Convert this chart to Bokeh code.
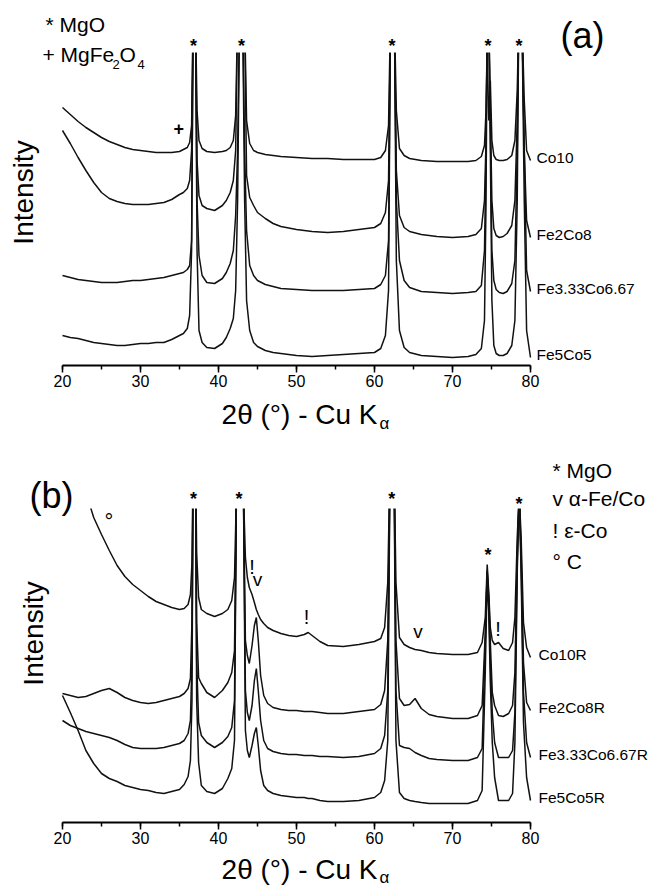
import math
from bokeh.plotting import figure
from bokeh.models import Range1d, Label, SingleIntervalTicker, LinearAxis, BoxAnnotation
from bokeh.layouts import column
from bokeh.embed import file_html
from bokeh.resources import INLINE

# ---------------- data, panel (a): as-prepared catalysts ----------------
# intensities are in arbitrary units; values above 313 run off the top of the panel
two_theta_a = [20, 21, 22, 23, 24, 25, 26, 27, 28, 29,
               30, 31, 32, 33, 34, 35, 35.5, 36.0, 36.3, 36.55,
               36.75, 36.9, 37.05, 37.25, 37.5, 37.9, 38.5, 39.5, 40.5, 41.0,
               41.5, 41.9, 42.2, 42.45, 42.7, 42.9, 43.1, 43.35, 43.6, 44.0,
               44.5, 45, 46, 47, 48, 50, 52, 54, 56, 58,
               60, 60.8, 61.4, 61.8, 62.05, 62.3, 62.55, 62.8, 63.2, 63.8,
               64.5, 66, 68, 70, 72, 73, 73.7, 74.1, 74.3, 74.45,
               74.65, 74.85, 75.05, 75.3, 75.6, 76.0, 76.5, 77.0, 77.6, 78.0,
               78.3, 78.5, 78.7, 78.9, 79.2, 79.5, 80]
co10 = [258, 251, 244, 238, 233, 228, 224, 221, 218, 216,
        215, 214, 213, 213, 213, 214, 216, 218, 223, 240,
        350, 350, 350, 255, 225, 217, 214, 213, 214, 215,
        218, 225, 250, 350, 350, 350, 350, 350, 245, 222,
        215, 213, 211, 210, 209, 208, 207, 207, 206, 206,
        206, 208, 215, 240, 350, 350, 350, 255, 217, 210,
        207, 205, 204, 204, 204, 205, 209, 220, 255, 313,
        245, 285, 225, 210, 206, 205, 205, 206, 210, 225,
        275, 350, 350, 350, 265, 215, 205]
fe2co8 = [235, 222, 208, 195, 183, 173, 167, 164, 162, 161,
          161, 161, 162, 163, 166, 171, 173, 177, 185, 215,
          350, 350, 350, 205, 170, 160, 157, 155, 160, 165,
          173, 185, 215, 350, 350, 350, 350, 350, 190, 168,
          160, 153, 147, 142, 139, 136, 134, 133, 134, 136,
          138, 142, 153, 185, 350, 350, 350, 195, 150, 138,
          134, 131, 129, 128, 129, 131, 137, 165, 225, 350,
          350, 255, 165, 137, 130, 128, 129, 132, 140, 165,
          245, 350, 350, 350, 215, 145, 128]
fe333co667 = [90, 88, 86, 85, 84, 83, 83, 83, 84, 85,
              85, 86, 87, 88, 90, 92, 93, 96, 100, 125,
              350, 350, 350, 165, 110, 90, 83, 82, 87, 93,
              102, 115, 150, 215, 350, 350, 350, 215, 135, 100,
              90, 85, 81, 79, 77, 76, 75, 75, 75, 76,
              77, 81, 90, 125, 350, 350, 350, 165, 105, 85,
              78, 74, 73, 72, 73, 74, 80, 115, 215, 350,
              350, 245, 115, 85, 76, 73, 72, 74, 82, 105,
              215, 350, 350, 350, 215, 95, 74]
fe5co5 = [30, 28, 27, 25, 23, 22, 21, 20, 20, 21,
          22, 22, 23, 23, 26, 30, 32, 37, 50, 115,
          350, 350, 350, 115, 35, 23, 18, 17, 22, 28,
          37, 47, 75, 165, 350, 350, 350, 165, 65, 35,
          23, 19, 15, 13, 12, 10, 9, 10, 11, 12,
          13, 17, 30, 75, 350, 350, 350, 105, 35, 18,
          13, 10, 9, 8, 9, 11, 17, 45, 165, 350,
          350, 215, 65, 20, 12, 10, 10, 12, 20, 45,
          165, 350, 350, 350, 165, 35, 8]
names_a = ["Co10", "Fe2Co8", "Fe3.33Co6.67", "Fe5Co5"]
mgo_peaks_a = [36.8, 42.95, 62.24, 74.55, 78.53]
mgfe2o4_peaks_a = [34.9]
top_a = 313  # intensity at which panel (a) is cut

# ---------------- data, panel (b): reduced catalysts ----------------
two_theta_b = [20, 21, 22, 23, 24, 25, 26, 27, 28, 29,
               30, 31, 32, 33, 34, 35, 35.6, 36.1, 36.4, 36.6,
               36.75, 36.9, 37.05, 37.2, 37.45, 37.8, 38.5, 39.5, 40.5, 41.2,
               41.7, 42.05, 42.3, 42.6, 42.9, 43.2, 43.45, 43.7, 43.95, 44.3,
               44.6, 44.85, 45.1, 45.4, 45.8, 46.3, 47, 48, 49, 50,
               51, 51.5, 52, 53, 54, 56, 58, 60, 60.8, 61.3,
               61.7, 62.0, 62.25, 62.5, 62.75, 63.2, 63.8, 64.5, 65.2, 66,
               67, 68, 70, 72, 73.2, 73.8, 74.2, 74.45, 74.65, 74.85,
               75.1, 75.4, 75.9, 76.5, 77.2, 77.7, 78.0, 78.3, 78.55, 78.8,
               79.1, 79.5, 80]
co10r = [365, 364, 362, 330, 305, 288, 272, 257, 246, 238,
         232, 226, 221, 218, 215, 213, 214, 218, 228, 260,
         365, 365, 365, 270, 225, 213, 209, 206, 209, 213,
         222, 245, 330, 365, 365, 330, 265, 245, 235, 228,
         220, 213, 208, 203, 199, 195, 192, 189, 187, 186,
         188, 190, 187, 181, 177, 176, 178, 181, 184, 195,
         240, 365, 365, 365, 240, 185, 178, 175, 173, 172,
         170, 169, 168, 168, 170, 180, 205, 258, 230, 195,
         182, 178, 180, 174, 172, 180, 205, 285, 330, 285,
         200, 175, 165]
fe2co8r = [129, 127, 125, 126, 129, 132, 134, 130, 125, 122,
           120, 119, 120, 122, 124, 126, 129, 134, 144, 202,
           365, 365, 365, 200, 145, 139, 130, 125, 132, 140,
           150, 172, 330, 365, 365, 330, 182, 167, 159, 177,
           197, 205, 182, 147, 127, 119, 115, 113, 112, 112,
           111, 111, 111, 110, 109, 109, 111, 113, 118, 132,
           182, 365, 365, 365, 182, 124, 117, 118, 124, 114,
           108, 106, 104, 104, 107, 117, 190, 252, 225, 180,
           130, 117, 107, 106, 109, 117, 150, 270, 330, 270,
           160, 120, 112]
fe333co667r = [102, 97, 94, 91, 89, 87, 85, 82, 78, 75,
               74, 74, 74, 75, 77, 79, 82, 89, 102, 162,
               365, 365, 365, 162, 100, 87, 80, 75, 80, 86,
               95, 122, 330, 365, 365, 330, 132, 110, 102, 117,
               142, 154, 132, 102, 82, 74, 71, 69, 68, 68,
               67, 67, 67, 66, 66, 65, 66, 69, 74, 87,
               132, 365, 365, 365, 132, 77, 75, 74, 70, 67,
               64, 63, 62, 62, 65, 74, 180, 250, 220, 160,
               110, 80, 65, 65, 65, 72, 110, 260, 330, 260,
               130, 80, 65]
fe5co5r = [127, 110, 92, 72, 59, 49, 44, 41, 37, 35,
           33, 32, 30, 29, 31, 33, 38, 46, 62, 122,
           365, 365, 365, 122, 60, 37, 31, 29, 34, 44,
           54, 82, 330, 365, 365, 330, 92, 72, 65, 77,
           89, 95, 77, 52, 37, 32, 29, 27, 26, 25,
           25, 24, 24, 22, 21, 21, 22, 25, 30, 42,
           82, 365, 365, 365, 82, 30, 24, 22, 21, 20,
           19, 19, 19, 19, 22, 32, 150, 245, 210, 140,
           80, 45, 22, 22, 22, 29, 80, 250, 330, 250,
           100, 45, 22]
names_b = ["Co10R", "Fe2Co8R", "Fe3.33Co6.67R", "Fe5Co5R"]
mgo_peaks_b = [36.8, 42.63, 62.2, 74.55, 78.53]
alpha_peaks_b = [45.0, 65.58]
eps_peaks_b = [44.3, 51.3, 75.83]
carbon_peaks_b = [25.96]
top_b = 314

x_min, x_max, x_step = 20, 80, 10

FONT = "Liberation Sans"
INK = "#111111"
W = 656
HA = 443          # height of panel (a) figure
HB = 886 - HA     # height of panel (b) figure
X0, X1 = 62, 530  # page x of 20 and 80 degrees
SX = (x_max - x_min) / (X1 - X0)
K_SHIFT = 0.33    # baseline correction of the text renderer (in em)


def px_to_x(px):
    return x_min + (px - X0) * SX


def make_panel(height, y_lo, y_hi):
    p = figure(width=W, height=height,
               x_range=Range1d(px_to_x(0), px_to_x(W)),
               y_range=Range1d(y_lo, y_hi), output_backend="svg",
               toolbar_location=None, x_axis_location=None, y_axis_location=None,
               min_border=0, min_border_left=0, min_border_right=0,
               min_border_top=0, min_border_bottom=0)
    p.outline_line_color = None
    p.grid.visible = False
    p.background_fill_color = "white"
    p.border_fill_color = "white"
    ax = LinearAxis(fixed_location=0, bounds=(x_min, x_max),
                    ticker=SingleIntervalTicker(interval=x_step, num_minor_ticks=2))
    ax.major_label_text_font = FONT
    ax.major_label_text_font_size = "16px"
    ax.major_label_text_color = "black"
    ax.axis_line_width = 1.8
    ax.axis_line_color = "black"
    ax.major_tick_line_width = 1.5
    ax.minor_tick_line_width = 1.5
    ax.major_tick_line_color = "black"
    ax.minor_tick_line_color = "black"
    ax.major_tick_out = 7
    ax.major_tick_in = 0
    ax.minor_tick_out = 4
    ax.minor_tick_in = 0
    ax.major_label_standoff = 2
    p.add_layout(ax, "below")
    return p


def mask_top(p, top_cut, y_hi):
    # the plotting area ends at top_cut: hide what lies above it
    p.add_layout(BoxAnnotation(bottom=top_cut, top=y_hi, fill_color="white",
                               fill_alpha=1.0, line_color=None))


def lab(p, x, y, text, size, align="left", bold=False, angle=0.0):
    if angle:
        x = x - K_SHIFT * size * SX
    else:
        y = y + K_SHIFT * size
    p.add_layout(Label(x=x, y=y, text=text, text_font=FONT,
                       text_font_size=f"{size}px", text_color="black",
                       text_align=align, text_baseline="alphabetic",
                       text_font_style="bold" if bold else "normal",
                       angle=angle))


# ---------------- panel (a) ----------------
YA = 365  # page y of intensity 0 in panel (a)
pa = make_panel(HA, YA - HA, YA)
for ys in [co10, fe2co8, fe333co667, fe5co5]:
    pa.line(two_theta_a, ys, line_color=INK, line_width=1.5)
mask_top(pa, top_a, YA)
for ys, name in zip([co10, fe2co8, fe333co667, fe5co5], names_a):
    lab(pa, px_to_x(536), ys[-1] - 2.5, name, 15.5)
for xp in mgo_peaks_a:
    lab(pa, xp, YA - 51, "*", 18, align="center", bold=True)
for xp in mgfe2o4_peaks_a:
    lab(pa, xp, YA - 134, "+", 18, align="center", bold=True)
lab(pa, px_to_x(45), YA - 31, "* MgO", 21)
lab(pa, px_to_x(42), YA - 61, "+ MgFe", 21)
lab(pa, px_to_x(112), YA - 68, "2", 13)
lab(pa, px_to_x(119), YA - 61, "O", 21)
lab(pa, px_to_x(137), YA - 68, "4", 13)
lab(pa, px_to_x(560), YA - 47, "(a)", 36)
lab(pa, px_to_x(32), YA - 192, "Intensity", 28, align="center", angle=math.pi / 2)
lab(pa, px_to_x(377), YA - 423, "2\u03b8 (\u00b0) - Cu K", 28, align="right")
lab(pa, px_to_x(379), YA - 429, "\u03b1", 17)

# ---------------- panel (b) ----------------
YB = 822  # page y of intensity 0 in panel (b)
pb = make_panel(HB, YB - 886, YB - HA)
for ys in [co10r, fe2co8r, fe333co667r, fe5co5r]:
    pb.line(two_theta_b, ys, line_color=INK, line_width=1.5)
mask_top(pb, top_b, YB - HA)
for ys, name in zip([co10r, fe2co8r, fe333co667r, fe5co5r], names_b):
    lab(pb, px_to_x(538), ys[-1] - 2.5, name, 15.5)
for xp in mgo_peaks_b:
    base = 560 if abs(xp - 74.55) < 0.5 else (509 if xp > 78 else 504.5)
    lab(pb, xp, YB - base, "*", 18, align="center", bold=True)
for xp, yb in zip(alpha_peaks_b, [585, 637]):
    lab(pb, xp, YB - yb, "v", 19, align="center")
for xp, yb in zip(eps_peaks_b, [573, 623, 635]):
    lab(pb, xp, YB - yb, "!", 20, align="center")
for xp in carbon_peaks_b:
    lab(pb, xp, YB - 528.5, "\u00b0", 22, align="center")
lab(pb, px_to_x(552), YB - 477, "* MgO", 21)
lab(pb, px_to_x(552), YB - 505, "v \u03b1-Fe/Co", 21)
lab(pb, px_to_x(552), YB - 537, "! \u03b5-Co", 21)
lab(pb, px_to_x(552), YB - 568, "\u00b0 C", 21)
lab(pb, px_to_x(29), YB - 507, "(b)", 36)
lab(pb, px_to_x(42), YB - 633, "Intensity", 28, align="center", angle=math.pi / 2)
lab(pb, px_to_x(377), YB - 878, "2\u03b8 (\u00b0) - Cu K", 28, align="right")
lab(pb, px_to_x(379), YB - 883, "\u03b1", 17)

layout = column(pa, pb)
open("out.html", "w").write(file_html(layout, INLINE))
